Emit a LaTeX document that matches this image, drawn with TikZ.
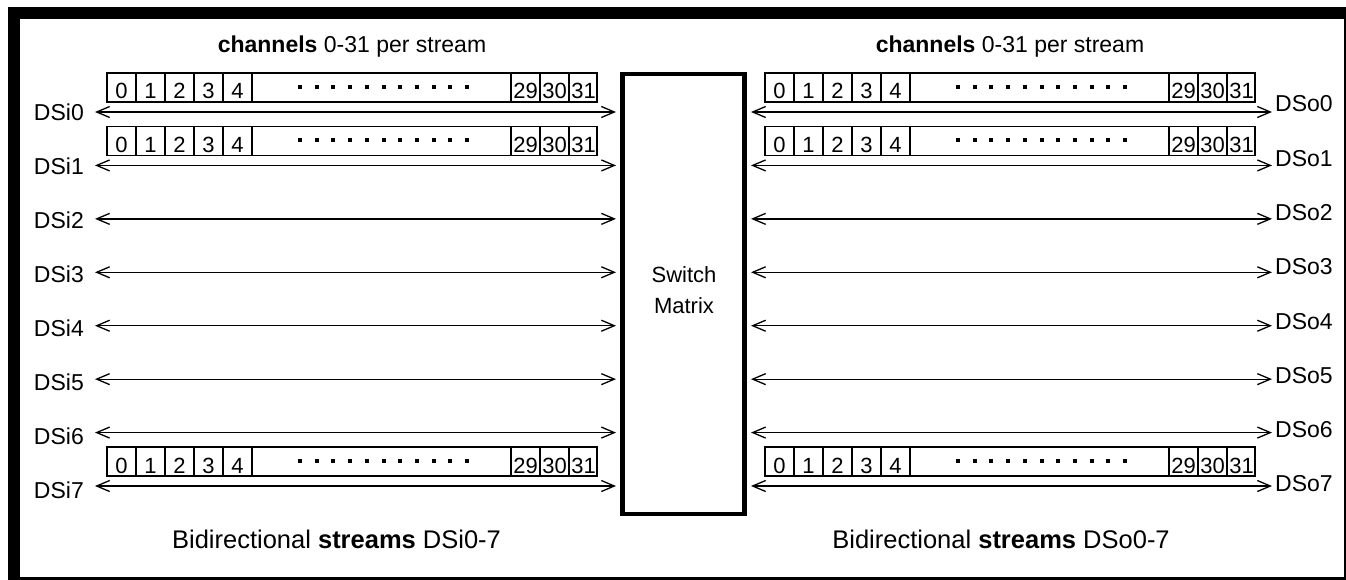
\documentclass[tikz,border=0pt]{standalone}
\usepackage{fontspec}
\setmainfont{Liberation Sans}
\usetikzlibrary{arrows.meta}

% one row of 32 channel slots: x of left edge, y of top edge, name prefix
\newcommand\chanrow[3]{%
  \draw[cellline] (#1,#2) rectangle ++(490,29);
  \foreach \k in {1,...,5} \draw[cellline] (#1+29*\k,#2) -- ++(0,29);
  \foreach \k in {0,1,2} \draw[cellline] (#1+404+29*\k,#2) -- ++(0,29);
  \foreach \k in {0,...,4} \node[cell] (#3c\k) at (#1+14.5+29*\k,#2+26) {\k};
  \foreach \k/\n in {0/29,1/30,2/31} \node[cell] (#3c\n) at (#1+418.5+29*\k,#2+26) {\n};
  \foreach \k in {0,...,10} \fill (#1+191+16.7*\k,#2+12) rectangle ++(4,4);
}

\begin{document}
\begin{tikzpicture}[x=1pt,y=-1pt,
  >={Straight Barb[length=13pt,width=11pt]},
  biarrow/.style={<->, line width=1.3pt},
  cellline/.style={line width=1.3pt},
  cell/.style={font=\fontsize{22}{22}\selectfont, anchor=base, inner sep=0pt},
  lbl/.style={font=\fontsize{23}{23}\selectfont, inner sep=0pt},
  caption/.style={font=\fontsize{23}{23}\selectfont, inner sep=0pt, anchor=base},
  bigcaption/.style={caption, font=\fontsize{25.5}{25.5}\selectfont},
  matrixbox/.style={draw, line width=4.5pt, minimum width=122pt, minimum height=440pt, inner sep=0pt}
]
\useasboundingbox (0,0) rectangle (1346,580);

% frame
\fill[black] (8,7) rectangle (1346,580);
\fill[white] (20,19) rectangle (1344,577);

% headings and captions
\node[caption] (hl) at (352,53) {\textbf{channels} 0-31 per stream};
\node[caption] (hr) at (1010,53) {\textbf{channels} 0-31 per stream};
\node[bigcaption] (bl) at (336.5,548) {Bidirectional \textbf{streams} DSi0-7};
\node[bigcaption] (br) at (1001,548) {Bidirectional \textbf{streams} DSo0-7};

% switch matrix
\node[matrixbox] (sm) at (683.5,294) {};
\node[align=center, font=\fontsize{22}{31}\selectfont] (smtext) at (684,290) {Switch\\Matrix};

% streams
\foreach \i in {0,...,7} {
  \pgfmathsetmacro\yy{112+53.43*\i}
  \pgfmathsetmacro\yl{\yy+0.6*\i}
  \pgfmathsetmacro\yr{\yy-8+0.85*\i}
  \coordinate (li\i) at (95,\yy);
  \coordinate (lo\i) at (616,\yy);
  \coordinate (ri\i) at (751,\yy);
  \coordinate (ro\i) at (1272,\yy);
  \node[lbl, anchor=east] (dsi\i) at (84,\yl) {DSi\i};
  \node[lbl, anchor=west] (dso\i) at (1275,\yr) {DSo\i};
  \draw[biarrow] (li\i) -- (lo\i);
  \draw[biarrow] (ri\i) -- (ro\i);
}

% channel slots
\chanrow{107}{73}{la}
\chanrow{107}{126.4}{lb}
\chanrow{107}{447}{lh}
\chanrow{765}{73}{ra}
\chanrow{765}{126.4}{rb}
\chanrow{765}{447}{rh}
\end{tikzpicture}
\end{document}
